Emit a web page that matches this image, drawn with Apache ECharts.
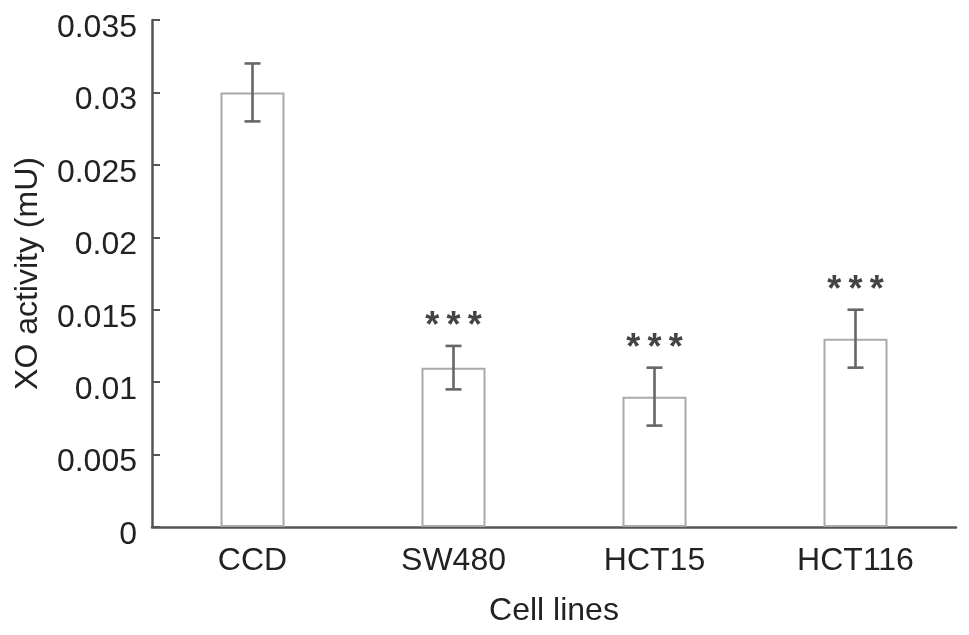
<!DOCTYPE html>
<html>
<head>
<meta charset="utf-8">
<script src="https://cdn.jsdelivr.net/npm/echarts@6/dist/echarts.min.js"></script>
<style>
html,body{margin:0;padding:0;background:#fff;}
#chart{width:969px;height:635px;}
</style>
</head>
<body>
<div id="chart"></div>
<script>
var categories = ['CCD', 'SW480', 'HCT15', 'HCT116'];
var means = [0.030, 0.011, 0.009, 0.013];
var errLow = [0.028, 0.0095, 0.007, 0.011];
var errHigh = [0.032, 0.0125, 0.011, 0.015];
var marks = ['', '*\u2009*\u2009*', '*\u2009*\u2009*', '*\u2009*\u2009*'];
var yTicks = { min: 0, max: 0.035, interval: 0.005 };

var FONT = '"Liberation Sans", Arial, Helvetica, sans-serif';
var chart = echarts.init(document.getElementById('chart'), null, { renderer: 'canvas' });

var errData = categories.map(function (c, i) { return [i, errLow[i], errHigh[i]]; });

chart.setOption({
  animation: false,
  backgroundColor: '#fff',
  grid: { left: 152, right: 13, top: 20, bottom: 108, containLabel: false, outerBoundsMode: 'none' },
  xAxis: {
    type: 'category',
    data: categories,
    name: 'Cell lines',
    nameLocation: 'middle',
    nameGap: 68,
    nameTextStyle: { fontFamily: FONT, fontSize: 32, color: '#222' },
    axisLine: { lineStyle: { color: '#555', width: 2.5 } },
    axisTick: { show: false },
    axisLabel: { fontFamily: FONT, fontSize: 32, color: '#222', margin: 18 }
  },
  yAxis: {
    type: 'value',
    min: yTicks.min,
    max: yTicks.max,
    interval: yTicks.interval,
    name: 'XO activity (mU)',
    nameLocation: 'middle',
    nameGap: 108,
    nameTextStyle: { fontFamily: FONT, fontSize: 32, color: '#222' },
    axisLine: { show: true, lineStyle: { color: '#555', width: 2.5 } },
    axisTick: { show: true, inside: true, length: 8, lineStyle: { color: '#555', width: 2 } },
    splitLine: { show: false },
    axisLabel: {
      fontFamily: FONT, fontSize: 32, color: '#222', margin: 15,
      formatter: function (v) { return '{a|' + String(parseFloat(v.toFixed(3))) + '}'; },
      rich: {
        a: { fontFamily: FONT, fontSize: 32, color: '#222', padding: [16, 0, 0, 0], backgroundColor: 'rgba(255,255,255,0)' }
      }
    }
  },
  series: [
    {
      type: 'bar',
      data: means,
      barWidth: 64,
      itemStyle: { color: '#fff', borderColor: '#aaa', borderWidth: 2 },
      z: 2
    },
    {
      type: 'custom',
      data: errData,
      z: 5,
      renderItem: function (params, api) {
        var i = api.value(0);
        var lo = api.coord([i, api.value(1)]);
        var hi = api.coord([i, api.value(2)]);
        var cap = 8;
        var style = { stroke: '#666', lineWidth: 2.6 };
        var children = [
          { type: 'line', shape: { x1: hi[0], y1: hi[1], x2: lo[0], y2: lo[1] }, style: style },
          { type: 'line', shape: { x1: hi[0] - cap, y1: hi[1], x2: hi[0] + cap, y2: hi[1] }, style: style },
          { type: 'line', shape: { x1: lo[0] - cap, y1: lo[1], x2: lo[0] + cap, y2: lo[1] }, style: style }
        ];
        if (marks[i]) {
          children.push({
            type: 'text',
            style: {
              text: marks[i], x: hi[0], y: hi[1] - 19,
              align: 'center', verticalAlign: 'middle',
              font: 'bold 36px ' + FONT, fill: '#444'
            }
          });
        }
        return { type: 'group', children: children };
      }
    }
  ]
});
</script>
</body>
</html>
